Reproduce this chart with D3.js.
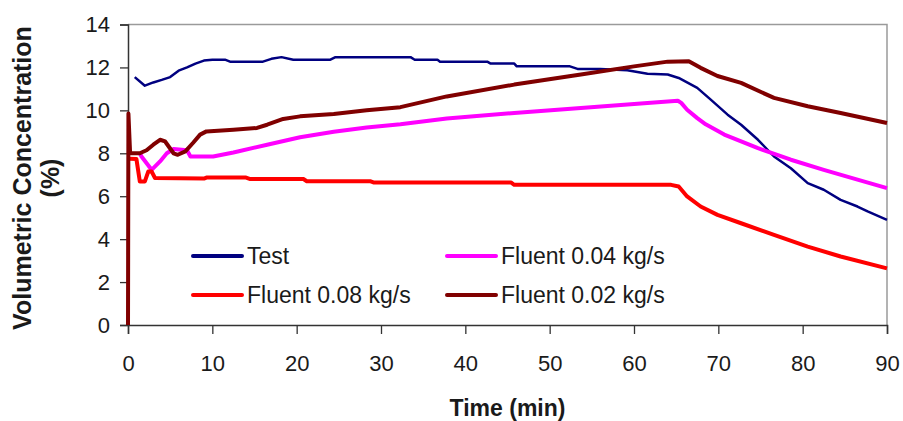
<!DOCTYPE html>
<html>
<head>
<meta charset="utf-8">
<script src="https://cdn.jsdelivr.net/npm/d3@7"></script>
<style>
  body { margin: 0; background: #fff; }
  text { font-family: Arial, "Liberation Sans", sans-serif; fill: #1a1a1a; }
</style>
</head>
<body>
<div id="chart"></div>
<script>
// data: [time (min), concentration (%)]
var testData = [[0.8,11.55],[2,11.15],[3,11.3],[4,11.42],[5,11.55],[6,11.85],[7,12.0],[8,12.18],[9,12.32],[10,12.36],[11.5,12.36],[12.1,12.27],[16,12.27],[17,12.4],[18.2,12.48],[19.6,12.36],[24,12.36],[24.6,12.48],[33.5,12.48],[34,12.36],[36.7,12.36],[37,12.27],[42.6,12.27],[43,12.18],[45.8,12.18],[46.1,12.05],[52.4,12.05],[53.3,11.93],[56,11.93],[59.2,11.87],[61.6,11.71],[64,11.67],[65.3,11.51],[67.5,11.05],[69.1,10.5],[71.1,9.8],[72.7,9.33],[74.7,8.63],[76.6,7.85],[78.6,7.3],[80.6,6.61],[82.5,6.3],[84.5,5.83],[86.5,5.52],[87.7,5.29],[90,4.9]];

var fluent08 = [[0.2,7.75],[1.0,7.73],[1.4,6.69],[2.0,6.69],[2.4,7.15],[2.8,7.15],[3.2,6.85],[9,6.82],[9.3,6.87],[14,6.87],[14.5,6.8],[20.8,6.8],[21.2,6.7],[28.7,6.7],[29.1,6.64],[45.4,6.64],[45.8,6.53],[64.4,6.53],[65.3,6.45],[66.3,5.99],[67.9,5.52],[69.9,5.13],[72.7,4.74],[76.6,4.2],[80.6,3.65],[84.5,3.19],[90,2.64]];

var fluent04 = [[1.4,8.0],[1.6,7.85],[2.8,7.23],[3.8,7.62],[4.6,8.0],[5.4,8.2],[7,8.14],[7.4,7.85],[10.1,7.85],[12.5,8.04],[16.5,8.4],[20.4,8.75],[24.4,9.0],[28.3,9.2],[32.3,9.35],[37.8,9.62],[45.8,9.88],[53.7,10.11],[61.6,10.34],[65.2,10.45],[65.6,10.35],[66.3,10.03],[67.5,9.64],[68.5,9.35],[70.7,8.87],[74.7,8.24],[78.6,7.7],[82.5,7.23],[86.5,6.77],[90,6.38]];

var fluent02 = [[0,0],[0.05,9.85],[0.25,8.0],[1.4,8.0],[2.2,8.14],[3.0,8.4],[3.8,8.63],[4.4,8.55],[5.4,8.0],[5.9,7.93],[6.8,8.09],[7.7,8.48],[8.55,8.87],[9.3,9.02],[12.5,9.1],[15.3,9.18],[16.5,9.33],[18.4,9.6],[20.4,9.72],[24.4,9.83],[28.3,10.0],[32.3,10.15],[37.8,10.65],[45.8,11.2],[53.7,11.67],[60,12.05],[64,12.27],[66.5,12.29],[67.9,11.98],[69.9,11.6],[72.7,11.28],[76.6,10.58],[80.6,10.19],[84.5,9.88],[90,9.41]];

var xTicks = [0,10,20,30,40,50,60,70,80,90];
var yTicks = [0,2,4,6,8,10,12,14];

var seriesNames = ["Test", "Fluent 0.08 kg/s", "Fluent 0.04 kg/s", "Fluent 0.02 kg/s"];
var seriesColors = ["#000080", "#ff0000", "#ff00ff", "#800000"];
var seriesWidths = [2.5, 4, 4, 4];
var seriesData = [testData, fluent08, fluent04, fluent02];

var W = 903, H = 421;
var margin = { top: 24.5, right: 16, bottom: 96, left: 128 };
var width = W - margin.left - margin.right,
    height = H - margin.top - margin.bottom;

var svg = d3.select("#chart").append("svg")
  .attr("width", W).attr("height", H);

var g = svg.append("g")
  .attr("transform", "translate(" + margin.left + "," + margin.top + ")");

var x = d3.scaleLinear().domain([0, 90]).range([0, width]);
var y = d3.scaleLinear().domain([0, 14]).range([height, 0]);

// top & right frame
g.append("path")
  .attr("d", "M0,0H" + width + "V" + height)
  .attr("fill", "none").attr("stroke", "#9a9a9a").attr("stroke-width", 1.5);

// y axis
var yAxis = g.append("g")
  .call(d3.axisLeft(y).tickValues(yTicks).tickSize(8).tickPadding(10));
// x axis
var xAxis = g.append("g")
  .attr("transform", "translate(0," + height + ")")
  .call(d3.axisBottom(x).tickValues(xTicks).tickSize(9).tickPadding(21));

[xAxis, yAxis].forEach(function(a) {
  a.select(".domain").attr("stroke", "#333").attr("stroke-width", 1.5);
  a.selectAll(".tick line").attr("stroke", "#333").attr("stroke-width", 1.3);
  a.selectAll(".tick text").style("font-size", "22px").attr("fill", "#222");
});

// lines (draw order: test, 0.04, 0.08, 0.02)
var line = d3.line()
  .x(function(d) { return x(d[0]); })
  .y(function(d) { return y(d[1]); });

[0, 2, 1, 3].forEach(function(i) {
  g.append("path")
    .datum(seriesData[i])
    .attr("fill", "none")
    .attr("stroke", seriesColors[i])
    .attr("stroke-width", seriesWidths[i])
    .attr("stroke-linejoin", "round")
    .attr("d", line);
});

// legend
var legendPos = [[193, 256], [193, 295], [447, 256], [447, 295]];
seriesNames.forEach(function(name, i) {
  var p = legendPos[i];
  svg.append("line")
    .attr("x1", p[0]).attr("x2", p[0] + 49)
    .attr("y1", p[1]).attr("y2", p[1])
    .attr("stroke", seriesColors[i]).attr("stroke-width", 4)
    .attr("stroke-linecap", "round");
  svg.append("text")
    .attr("x", p[0] + 54).attr("y", p[1] + 8)
    .style("font-size", "23px")
    .text(name);
});

// axis titles
svg.append("text")
  .attr("x", margin.left + width / 2).attr("y", 416)
  .attr("text-anchor", "middle")
  .style("font-size", "23px").style("font-weight", "bold")
  .text("Time (min)");

var yt = svg.append("text")
  .attr("transform", "translate(31,178) rotate(-90)")
  .attr("text-anchor", "middle")
  .style("font-size", "25px").style("font-weight", "bold");
yt.append("tspan").attr("x", 0).attr("dy", 0).text("Volumetric Concentration");
yt.append("tspan").attr("x", 0).attr("dy", 28).text("(%)");
</script>
</body>
</html>
